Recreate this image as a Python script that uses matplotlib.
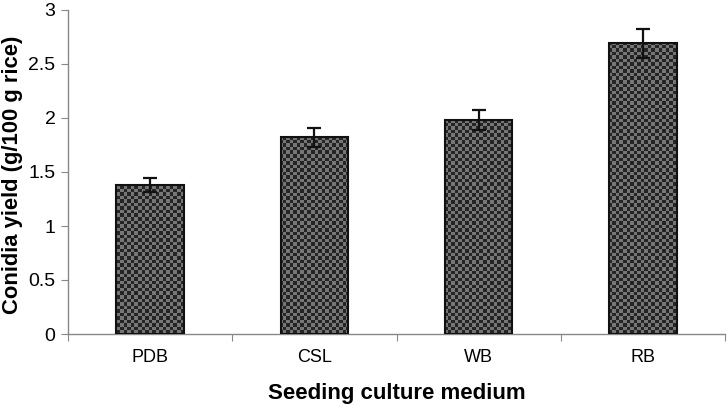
import matplotlib
matplotlib.use("Agg")
import matplotlib.pyplot as plt
import numpy as np
from matplotlib.colors import ListedColormap

categories = ["PDB", "CSL", "WB", "RB"]
values = [1.38, 1.82, 1.98, 2.69]
errors = [0.065, 0.09, 0.09, 0.13]

plt.rcParams['font.family'] = ['Liberation Sans', 'DejaVu Sans']

fig = plt.figure(figsize=(7.28, 4.11), dpi=100)
ax = fig.add_axes([68/728, 1-334/411, (725-68)/728, (334-10)/411])

x = np.arange(len(categories)) + 0.5
bars = ax.bar(x, values, width=0.41, color='none', edgecolor='#111111', linewidth=1.5, zorder=3)
ax.errorbar(x, values, yerr=errors, fmt='none', ecolor='#111111', elinewidth=1.6, capsize=5, capthick=1.6, zorder=4)

ax.set_xlim(0, 4)
ax.set_ylim(0, 3)

# checkerboard texture clipped to bars
nx, ny = int(657/3.5), int(324/3.5)
yy, xx = np.mgrid[0:ny, 0:nx]
checker = ((xx + yy) % 2).astype(float)
cmap = ListedColormap(['#252525', '#767676'])
for b in bars:
    im = ax.imshow(checker, cmap=cmap, extent=[0, 4, 0, 3], aspect='auto',
                   interpolation='nearest', zorder=2, origin='lower')
    im.set_clip_path(b)

ax.spines['top'].set_visible(False)
ax.spines['right'].set_visible(False)
for s in ['left', 'bottom']:
    ax.spines[s].set_color('#888888')
    ax.spines[s].set_linewidth(1.0)

ax.set_yticks([0, 0.5, 1, 1.5, 2, 2.5, 3])
ax.set_yticklabels(['0', '0.5', '1', '1.5', '2', '2.5', '3'])
ax.tick_params(axis='y', direction='out', length=5, color='#888888', labelsize=14, pad=4)
ax.set_xticks([0, 1, 2, 3, 4])
ax.set_xticklabels([])
ax.tick_params(axis='x', which='major', direction='out', length=5, color='#888888')
ax.set_xticks(x, minor=True)
ax.set_xticklabels(categories, minor=True)
ax.tick_params(axis='x', which='minor', length=0, labelsize=13, pad=11)

ax.set_xlabel('Seeding culture medium', fontsize=16, fontweight='bold', labelpad=12)
ax.set_ylabel('Conidia yield (g/100 g rice)', fontsize=15.8, fontweight='bold',
              va='center', ha='center')
ax.yaxis.set_label_coords((13-68)/657, (334-175)/324)

fig.savefig('out.png', dpi=100)
